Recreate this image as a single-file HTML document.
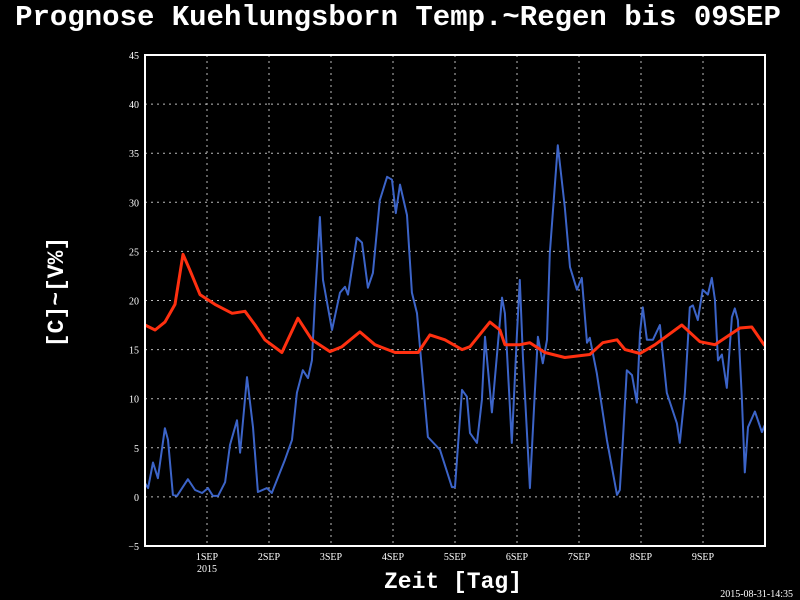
<!DOCTYPE html>
<html><head><meta charset="utf-8"><style>
html,body{margin:0;padding:0;background:#000;width:800px;height:600px;overflow:hidden}
svg{display:block}
</style></head><body>
<svg id="chart" width="800" height="600" viewBox="0 0 800 600" xmlns="http://www.w3.org/2000/svg">
<rect x="0" y="0" width="800" height="600" fill="#000"/>
<text x="398" y="25" text-anchor="middle" font-family="Liberation Mono, monospace" font-weight="bold" font-size="29" fill="#fff">Prognose Kuehlungsborn Temp.~Regen bis 09SEP</text>
<g id="grid"></g>
<g id="yticks"></g>
<g id="xticks"></g>
<g id="series"></g>
<rect x="145" y="55" width="620" height="491" fill="none" stroke="#fff" stroke-width="2"/>
<text transform="translate(63,292) rotate(-90)" text-anchor="middle" font-family="Liberation Mono, monospace" font-weight="bold" font-size="23" fill="#fff">[C]~[V%]</text>
<text x="453" y="588" text-anchor="middle" font-family="Liberation Mono, monospace" font-weight="bold" font-size="23" fill="#fff">Zeit [Tag]</text>
<text x="793" y="597" text-anchor="end" font-family="Liberation Serif, serif" font-size="10" fill="#fff">2015-08-31-14:35</text>
</svg>
<script>
const yTicks = [-5,0,5,10,15,20,25,30,35,40,45];
const dayLabels = ["1SEP","2SEP","3SEP","4SEP","5SEP","6SEP","7SEP","8SEP","9SEP"];
const dayHours = [24,48,72,96,120,144,168,192,216];
const tempHours = [0,3.9,7.7,11.6,14.7,17.4,21.3,27.1,33.7,38.7,42.6,46.4,53.0,59.2,64.6,71.6,76.2,83.2,89.0,96.8,105.7,110.3,116.1,122.7,125.8,133.5,137.4,139.3,145.1,149.0,154.8,162.5,172.2,177.2,182.7,185.8,191.6,197.4,207.8,214.8,220.6,230.3,234.9,239.9];
const tempValues = [17.5,17.0,17.8,19.6,24.7,23.1,20.6,19.6,18.7,18.9,17.5,16.0,14.7,18.2,16.0,14.8,15.3,16.8,15.5,14.7,14.7,16.5,16.0,15.0,15.3,17.8,17.0,15.5,15.5,15.7,14.7,14.2,14.5,15.7,16.0,15.0,14.6,15.5,17.5,15.8,15.5,17.2,17.3,15.4];
const rainHours = [0,1.2,3.1,5.0,7.7,8.9,10.8,12.4,16.6,19.4,22.1,24.4,26.3,28.3,31.0,32.9,35.6,36.8,39.5,41.8,43.7,47.2,49.1,54.2,56.9,58.8,61.1,63.1,64.6,65.8,67.7,68.9,72.4,75.5,77.4,78.6,82.0,84.0,86.3,88.2,90.9,93.7,95.6,97.1,98.7,101.4,103.3,105.3,109.5,114.2,118.8,120.0,122.7,124.6,125.8,128.5,130.4,131.6,134.3,138.2,139.3,142.0,144.0,145.1,146.3,149.0,150.9,152.1,154.0,155.6,156.7,159.8,162.5,164.5,167.2,169.1,171.1,172.2,174.9,178.8,182.7,183.8,185.0,186.5,188.5,190.4,191.6,192.7,194.3,196.6,199.3,202.0,205.9,207.0,209.0,210.9,212.1,214.0,215.9,217.9,219.4,220.6,221.8,223.3,225.2,227.2,228.3,229.5,231.0,232.2,233.4,236.1,238.8,239.9];
const rainValues = [1.4,0.9,3.5,1.9,7.0,5.8,0.2,0.1,1.8,0.7,0.4,0.9,0.1,0.1,1.5,5.3,7.8,4.5,12.2,7.1,0.5,0.9,0.4,3.8,5.8,10.6,12.9,12.1,13.9,20.1,28.5,22.1,17.0,20.8,21.4,20.6,26.4,25.9,21.3,22.8,30.2,32.6,32.3,28.9,31.8,28.7,20.8,18.7,6.1,4.8,1.0,1.0,10.9,10.2,6.5,5.5,9.9,16.3,8.6,20.3,18.7,5.5,16.7,22.1,14.3,0.9,10.6,16.3,13.6,16.0,24.8,35.8,29.5,23.4,21.1,22.3,15.7,16.2,12.6,5.8,0.2,0.7,5.8,12.9,12.4,9.6,16.7,19.3,16.0,16.0,17.5,10.6,7.5,5.5,10.6,19.3,19.5,18.0,21.1,20.6,22.3,20.1,13.9,14.5,11.1,18.3,19.2,18.0,10.2,2.5,7.1,8.7,6.6,7.3];

const NS = "http://www.w3.org/2000/svg";
const X0 = 145, X1 = 765, Y0 = 546, Y1 = 55;
const xMin = 0, xMax = 240, yMin = -5, yMax = 45;
function xs(h){ return X0 + (h - xMin) / (xMax - xMin) * (X1 - X0); }
function ys(v){ return Y0 - (v - yMin) / (yMax - yMin) * (Y0 - Y1); }
function mk(tag, attrs, parent){ const e = document.createElementNS(NS, tag); for (const k in attrs) e.setAttribute(k, attrs[k]); parent.appendChild(e); return e; }

const grid = document.getElementById('grid');
const yt = document.getElementById('yticks');
const xt = document.getElementById('xticks');
const ser = document.getElementById('series');

yTicks.forEach(v => {
  const y = ys(v);
  const gl = mk('line', {x1:X0, x2:X1, y1:y, y2:y, stroke:'#bbb', 'stroke-width':1, 'stroke-dasharray':'2,4'}, grid);
  
  
  const t = mk('text', {x:X0 - 6, y:y + 4, 'text-anchor':'end', 'font-family':'Liberation Serif, serif', 'font-size':'10', fill:'#fff'}, yt);
  t.textContent = v < 0 ? '\u2212' + Math.abs(v) : String(v);
  
  
});

dayHours.forEach((h, i) => {
  const x = xs(h);
  const gl = mk('line', {x1:x, x2:x, y1:Y1, y2:Y0, stroke:'#bbb', 'stroke-width':1, 'stroke-dasharray':'2,4'}, grid);
  
  
  const t = mk('text', {x:x, y:Y0 + 14, 'text-anchor':'middle', 'font-family':'Liberation Serif, serif', 'font-size':'10', fill:'#fff'}, xt);
  t.textContent = dayLabels[i];
  
  
  if (i === 0) {
    const t2 = mk('text', {x:x, y:Y0 + 26, 'text-anchor':'middle', 'font-family':'Liberation Serif, serif', 'font-size':'10', fill:'#fff'}, xt);
    t2.textContent = '2015';
    
    
  }
});

function pathFrom(hs, vs){ return hs.map((h, i) => (i ? 'L' : 'M') + xs(h).toFixed(1) + ',' + ys(vs[i]).toFixed(1)).join(' '); }
const rain = mk('path', {d:pathFrom(rainHours, rainValues), fill:'none', stroke:'#3c64c8', 'stroke-width':2, 'stroke-linejoin':'round'}, ser);


const temp = mk('path', {d:pathFrom(tempHours, tempValues), fill:'none', stroke:'#ff3010', 'stroke-width':3, 'stroke-linejoin':'round'}, ser);


</script>
</body></html>
